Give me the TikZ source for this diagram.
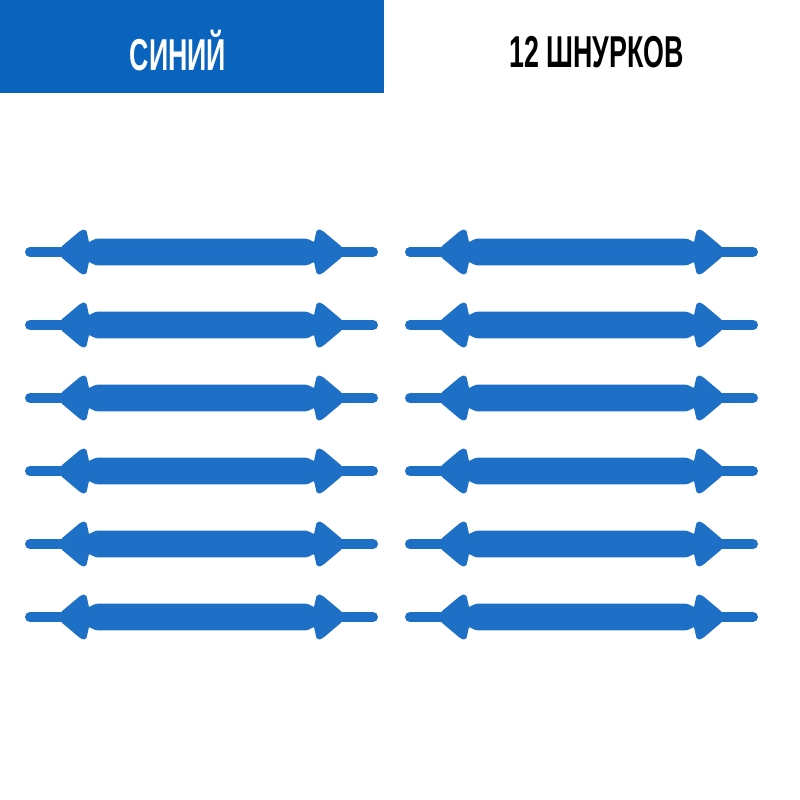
\documentclass[tikz,border=0pt]{standalone}
\usepackage{fontspec}
\newfontfamily\headfont[FakeStretch=0.6]{Liberation Sans}
\definecolor{headblue}{RGB}{10,100,190}
\definecolor{laceblue}{RGB}{30,112,198}
\begin{document}
\begin{tikzpicture}[x=0.01cm, y=-0.01cm, line join=round, line cap=round,
	lace/.style={fill=laceblue, draw=laceblue, line width=0.8pt, rounded corners=0.4pt},
	stub/.style={draw=laceblue, line width=0.1cm, line cap=round},
	head/.style={font=\headfont\bfseries\fontsize{12.7}{14}\selectfont, inner sep=0pt}]
			\useasboundingbox (0,0) rectangle (800,800);
			\def\t{139.5}
			\fill[headblue] (0,0) rectangle (384,93);
			\node[head, text=white] (colour) at (178,51) {СИНИЙ};
			\node[head, text=black] (count) at (596.5,52) {12 ШНУРКОВ};
			% six rows of laces in two columns
			\foreach \c in {201.5,581.5}
			\foreach \r in {252,325,398,471,544,617}
			{
			\begin{scope}[shift={(\c,\r)}]
			\draw[stub] (-171.5,0) -- (171.5,0);
			\filldraw[lace] (-\t,-4) -- (-120.5,-20) -- (-116.5,-21.5) -- (-113.5,-8) -- (-105,-12)
			-- (105,-12) -- (113.5,-8) -- (116.5,-21.5) -- (120.5,-20) -- (\t,-4)
			-- (\t,4) -- (120.5,20) -- (116.5,21.5) -- (113.5,8) -- (105,12)
			-- (-105,12) -- (-113.5,8) -- (-116.5,21.5) -- (-120.5,20) -- (-\t,4) -- cycle;
			\end{scope}
			}
			\end{tikzpicture}
\end{document}
